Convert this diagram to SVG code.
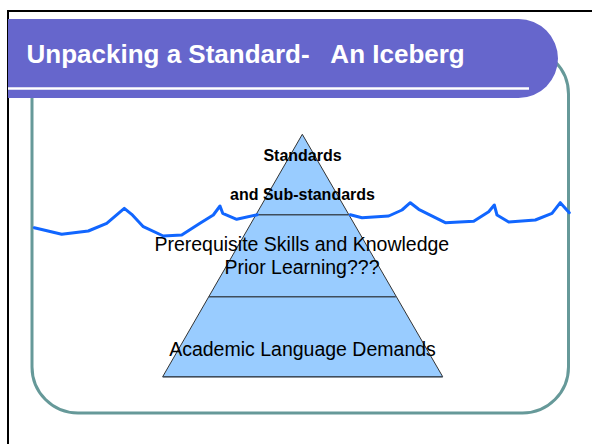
<svg xmlns="http://www.w3.org/2000/svg" width="592" height="444" viewBox="0 0 592 444">
<style>
.reg{font-family:"Liberation Sans",Arial,sans-serif;font-size:19.5px;fill:#000;text-anchor:middle}
.bold{font-family:"Liberation Sans",Arial,sans-serif;font-size:16px;font-weight:bold;fill:#000;text-anchor:middle}
.wave{fill:none;stroke:#1166ff;stroke-width:3;stroke-linejoin:round;stroke-linecap:round}
.div{stroke:#3f4d5c;stroke-width:1.5}
</style>
<rect width="592" height="444" fill="#fff"/>
<g id="frame">
<rect x="8" y="11" width="620" height="470" fill="none" stroke="#000" stroke-width="2"/>
</g>
<g id="content-box">
<rect x="32" y="48" width="536.5" height="365" rx="46" ry="46" fill="none" stroke="#669999" stroke-width="3"/>
</g>
<g id="title">
<path d="M8,19 H518.5 A39.5,39.5 0 0 1 518.5,98 H8 Z" fill="#6666cc"/>
<line x1="8" y1="88.5" x2="529" y2="88.5" stroke="#fff" stroke-width="2.5"/>
<text x="26.5" y="62.7" xml:space="preserve" font-family="Liberation Sans, Arial, sans-serif" font-size="26" font-weight="bold" fill="#fff">Unpacking a Standard-   An Iceberg</text>
</g>
<g id="iceberg">
<polygon points="302.3,134.3 442.7,376.7 162.7,376.7" fill="#99ccff" stroke="#333" stroke-width="1"/>
<line class="div" x1="256.2" y1="214.7" x2="348.6" y2="214.7"/>
<line class="div" x1="208.8" y1="296.7" x2="395.8" y2="296.7"/>
<line class="div" x1="162.7" y1="376.7" x2="442.7" y2="376.7"/>
</g>
<g id="labels">
<text class="bold" x="302.5" y="160.7">Standards</text>
<text class="bold" x="302.5" y="200">and Sub-standards</text>
<text class="reg" x="301.8" y="250.7">Prerequisite Skills and Knowledge</text>
<text class="reg" x="302" y="274">Prior Learning???</text>
<text class="reg" x="302.5" y="355.7">Academic Language Demands</text>
</g>
<g id="waterline">
<polyline class="wave" points="34.3,227.7 61.7,234.3 88.3,231 106.7,223.3 124.3,208.3 131.7,214.3 143.3,226.7 163.3,236 181.7,235 200,223.3 213.3,215 220,206 222.7,213.3 236.7,219.3 257.3,214.7"/>
<polyline class="wave" points="350.3,214.7 362,217.7 388.7,216 402,210 410.3,202.7 418.7,209.3 445.3,222.7 473.7,221.3 488.7,211.7 494.3,205 497,215 508.7,222 535.3,220 552,213.3 560.3,202.7 569.3,212.7"/>
</g>
</svg>
